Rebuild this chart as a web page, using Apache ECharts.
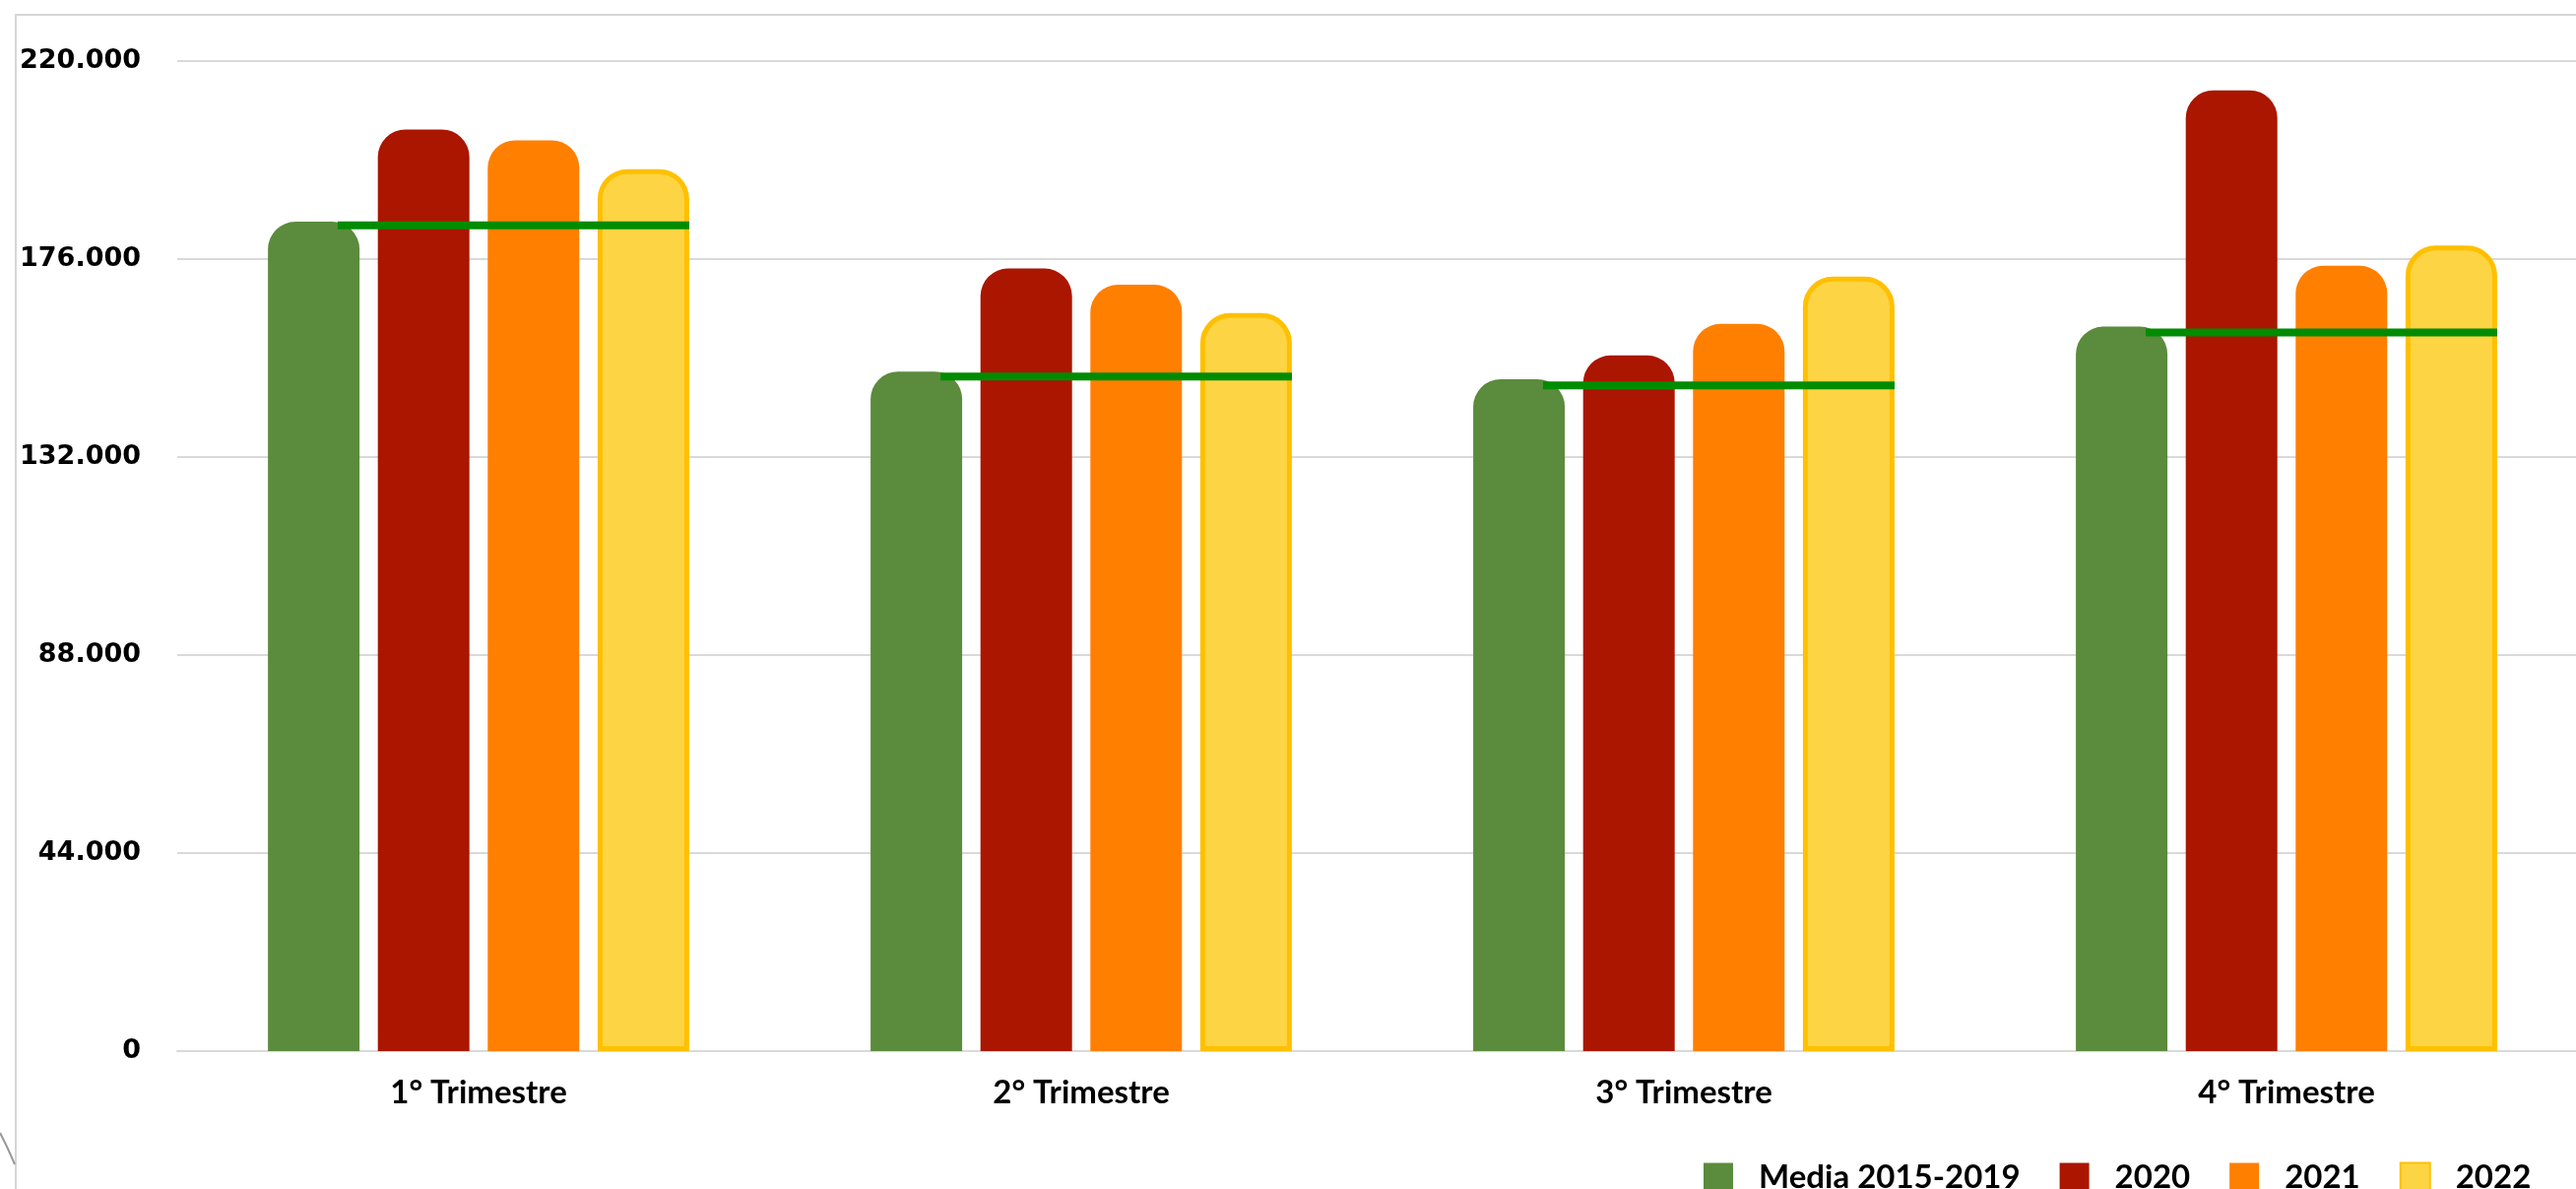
<!DOCTYPE html>
<html><head><meta charset="utf-8">
<script src="https://cdn.jsdelivr.net/npm/echarts@6/dist/echarts.min.js"></script>
<style>html,body{margin:0;padding:0;background:#fff;overflow:hidden;width:2616px;height:1207px}#c{width:2628px;height:1207px}</style>
</head><body><div id="c"></div>
<script>
const categories = ['1° Trimestre', '2° Trimestre', '3° Trimestre', '4° Trimestre'];
const seriesNames = ['Media 2015-2019', '2020', '2021', '2022'];
const media = [184300, 151000, 149300, 161000];
const y2020 = [204800, 173900, 154600, 213500];
const y2021 = [202400, 170300, 161600, 174500];
const y2022 = [196000, 164000, 172100, 179000];
const mediaLine = [183500, 149900, 147900, 159700];
const yMin = 0, yMax = 220000, yStep = 44000;

function fmt(v) { return String(v).replace(/\B(?=(\d{3})+(?!\d))/g, '.'); }

const chart = echarts.init(document.getElementById('c'), null, {renderer: 'canvas'});
const radius = [28, 28, 0, 0];
const option = {
  animation: false,
  backgroundColor: '#ffffff',
  graphic: [{
    type: 'rect', z: -10, silent: true,
    shape: {x: 16, y: 15, width: 2800, height: 1400},
    style: {fill: 'none', stroke: '#d6d6d6', lineWidth: 2}
  }, {
    type: 'bezierCurve', z: -10, silent: true,
    shape: {x1: 0, y1: 1150, cpx1: 7, cpy1: 1163, x2: 15, y2: 1182},
    style: {fill: 'none', stroke: '#999999', lineWidth: 2}
  }],
  grid: {left: 180, right: 0, top: 62, bottom: 140, containLabel: false},
  legend: {
    data: seriesNames,
    left: 1725, top: 1174,
    icon: 'rect', itemWidth: 30, itemHeight: 30, itemGap: 40,
    textStyle: {fontFamily: 'Lato', fontWeight: 'bold', fontSize: 33, color: '#000', padding: [0, 0, 0, 21]}
  },
  xAxis: {
    type: 'category', data: categories,
    axisLine: {show: true, lineStyle: {color: '#d9d9d9', width: 2}},
    axisTick: {show: false},
    axisLabel: {fontFamily: 'Lato', fontWeight: 'bold', fontSize: 33, color: '#000', margin: 26}
  },
  yAxis: {
    type: 'value', min: yMin, max: yMax, interval: yStep,
    axisLine: {show: false}, axisTick: {show: false},
    splitLine: {lineStyle: {color: '#d9d9d9', width: 2}},
    axisLabel: {fontFamily: 'DejaVu Sans', fontWeight: 'bold', fontSize: 27, color: '#000', margin: 37, formatter: fmt}
  },
  series: [
    {name: seriesNames[0], type: 'bar', data: media, barWidth: 93, barGap: '20%',
     itemStyle: {color: '#5B8B3C', borderRadius: radius}},
    {name: seriesNames[1], type: 'bar', data: y2020, barWidth: 93, barGap: '20%',
     itemStyle: {color: '#AA1600', borderRadius: radius}},
    {name: seriesNames[2], type: 'bar', data: y2021, barWidth: 93, barGap: '20%',
     itemStyle: {color: '#FF7F00', borderRadius: radius}},
    {name: seriesNames[3], type: 'bar', data: y2022, barWidth: 93, barGap: '20%',
     itemStyle: {color: '#FDD443', borderColor: '#FFC000', borderWidth: 5, borderRadius: radius}},
    {name: 'mediaLine', type: 'custom', z: 10,
     data: mediaLine.map((v, i) => [i, v]),
     encode: {x: 0, y: 1},
     renderItem: function (params, api) {
       const c = api.coord([api.value(0), api.value(1)]);
       const band = api.size([1, 0])[0];
       return {
         type: 'line',
         shape: {x1: c[0] - band * 0.2337, y1: c[1], x2: c[0] + band * 0.3497, y2: c[1]},
         style: {stroke: '#008C00', lineWidth: 8}
       };
     }}
  ]
};
chart.setOption(option);
</script>
</body></html>
